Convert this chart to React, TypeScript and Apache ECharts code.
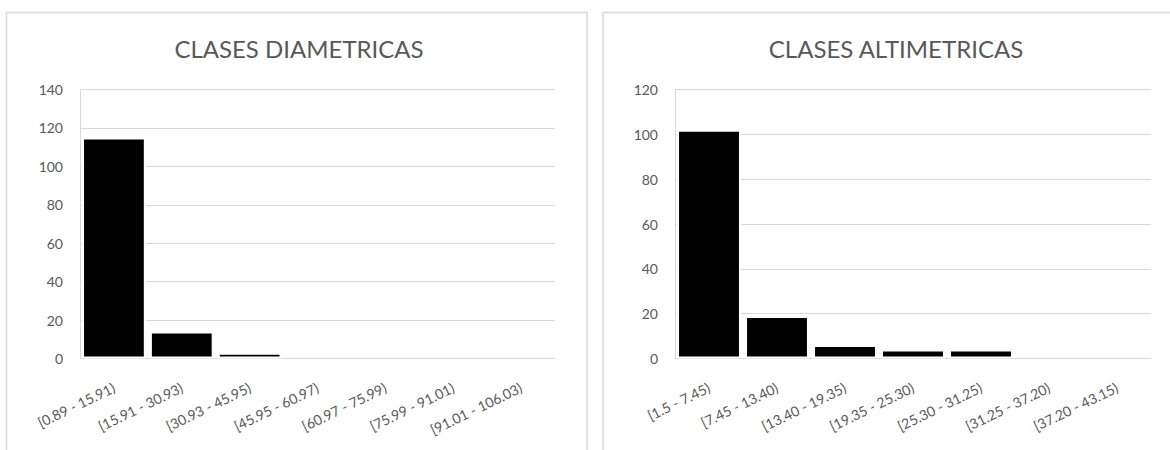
import React, { useEffect, useRef } from "react";
import * as echarts from "echarts";

const diamTitle = "CLASES DIAMETRICAS";
const diamCategories = [
  "[0.89 - 15.91)",
  "[15.91 - 30.93)",
  "[30.93 - 45.95)",
  "[45.95 - 60.97)",
  "[60.97 - 75.99)",
  "[75.99 - 91.01)",
  "[91.01 - 106.03)",
];
const diamValues = [115, 14, 3, 0, 0, 0, 0];
const diamMax = 140;

const altTitle = "CLASES ALTIMETRICAS";
const altCategories = [
  "[1.5 - 7.45)",
  "[7.45 - 13.40)",
  "[13.40 - 19.35)",
  "[19.35 - 25.30)",
  "[25.30 - 31.25)",
  "[31.25 - 37.20)",
  "[37.20 - 43.15)",
];
const altValues = [102, 19, 6, 4, 4, 0, 0];
const altMax = 120;

const FONT = "Lato";
const TEXT = "#595959";
const GRID = "#d9d9d9";

// zero-count classes draw no bar (avoids the white border cutting the axis line)
const toBarData = (vals: number[]) => vals.map((v) => (v === 0 ? null : v));

export default function App() {
  const ref = useRef<HTMLDivElement>(null);
  useEffect(() => {
    if (!ref.current) return;
    const chart = echarts.init(ref.current, null, { renderer: "svg" });
    const xAxisCommon = (data: string[], gridIndex: number) => ({
      type: "category",
      gridIndex,
      data,
      axisTick: { show: false },
      axisLine: { show: true, lineStyle: { color: GRID, width: 1 } },
      axisLabel: {
        interval: 0,
        rotate: 26,
        margin: 28,
        color: TEXT,
        fontFamily: FONT,
        fontSize: 14,
      },
    });
    const yAxisCommon = (max: number, gridIndex: number) => ({
      type: "value",
      gridIndex,
      min: 0,
      max,
      interval: 20,
      axisLine: { show: true, lineStyle: { color: GRID, width: 1 } },
      axisTick: { show: false },
      splitLine: { show: true, lineStyle: { color: GRID, width: 1 } },
      axisLabel: {
        margin: 17,
        color: TEXT,
        fontFamily: FONT,
        fontSize: 14,
      },
    });
    const barStyle = {
      color: "#000000",
      borderColor: "#ffffff",
      borderWidth: 2,
    };
    chart.setOption({
      animation: false,
      backgroundColor: "#ffffff",
      graphic: [
        {
          type: "rect",
          shape: { x: 6.5, y: 12.5, width: 580.5, height: 460 },
          style: { fill: "none", stroke: GRID, lineWidth: 1.5 },
          silent: true,
        },
        {
          type: "rect",
          shape: { x: 603, y: 12.5, width: 580, height: 460 },
          style: { fill: "none", stroke: GRID, lineWidth: 1.5 },
          silent: true,
        },
      ],
      title: [
        {
          text: diamTitle,
          left: 294,
          textAlign: "center",
          top: 31,
          textStyle: { color: TEXT, fontFamily: FONT, fontSize: 24, fontWeight: "normal" },
        },
        {
          text: altTitle,
          left: 891,
          textAlign: "center",
          top: 31,
          textStyle: { color: TEXT, fontFamily: FONT, fontSize: 24, fontWeight: "normal" },
        },
      ],
      grid: [
        { left: 80, top: 89.5, width: 475, height: 269 },
        { left: 675, top: 89.5, width: 476, height: 269 },
      ],
      xAxis: [xAxisCommon(diamCategories, 0), xAxisCommon(altCategories, 1)],
      yAxis: [yAxisCommon(diamMax, 0), yAxisCommon(altMax, 1)],
      series: [
        {
          type: "bar",
          xAxisIndex: 0,
          yAxisIndex: 0,
          data: toBarData(diamValues),
          barCategoryGap: "6%",
          itemStyle: barStyle,
        },
        {
          type: "bar",
          xAxisIndex: 1,
          yAxisIndex: 1,
          data: toBarData(altValues),
          barCategoryGap: "6%",
          itemStyle: barStyle,
        },
      ],
    });
    return () => chart.dispose();
  }, []);
  return (
    <div
      ref={ref}
      style={{ position: "fixed", left: 0, top: 0, width: 1170, height: 450 }}
    />
  );
}
